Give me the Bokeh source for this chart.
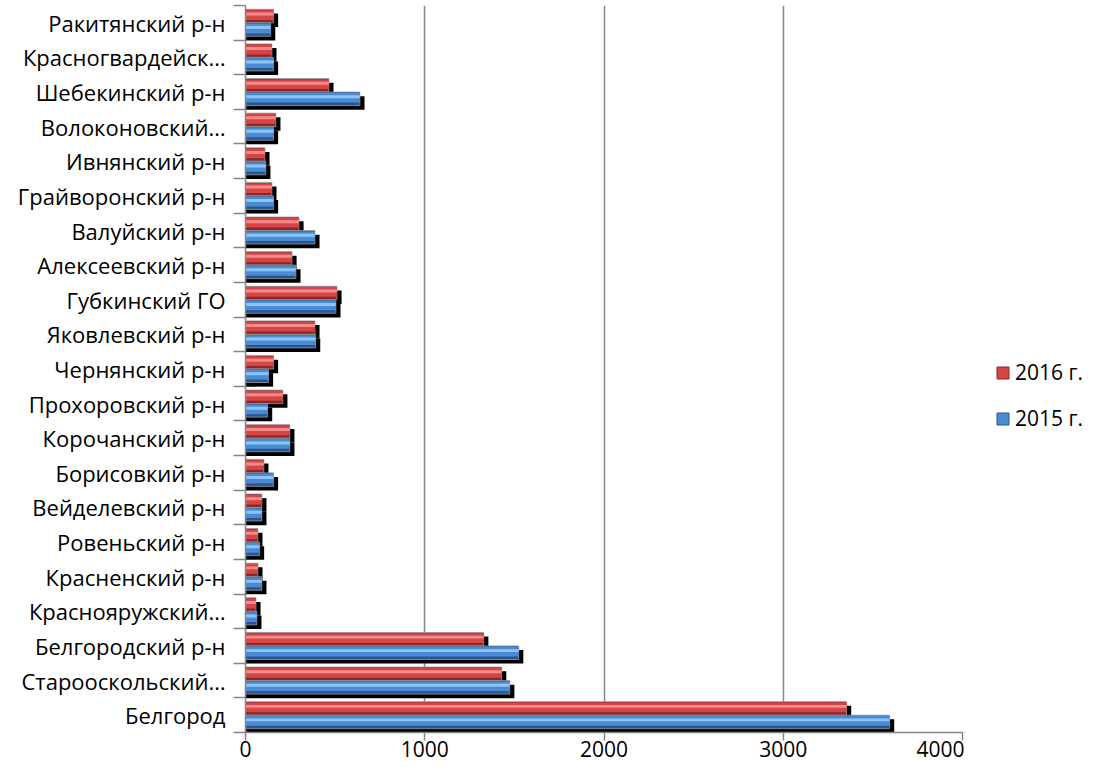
from bokeh.plotting import figure
from bokeh.layouts import row
from bokeh.models import Range1d, FixedTicker, Legend, LegendItem, ColumnDataSource
from bokeh.embed import file_html
from bokeh.resources import INLINE

# Categories, top to bottom as in the chart
districts = [
    "Ракитянский р-н", "Красногвардейск…", "Шебекинский р-н", "Волоконовский…",
    "Ивнянский р-н", "Грайворонский р-н", "Валуйский р-н", "Алексеевский р-н",
    "Губкинский ГО", "Яковлевский р-н", "Чернянский р-н", "Прохоровский р-н",
    "Корочанский р-н", "Борисовкий р-н", "Вейделевский р-н", "Ровеньский р-н",
    "Красненский р-н", "Краснояружский…", "Белгородский р-н", "Старооскольский…",
    "Белгород",
]
values_2016 = [156, 147, 465, 169, 108, 147, 298, 259, 510, 387, 156, 208,
               247, 102, 91, 69, 69, 58, 1329, 1429, 3353]
values_2015 = [140, 156, 638, 156, 113, 156, 387, 281, 504, 391, 128, 123,
               247, 156, 91, 78, 91, 63, 1524, 1474, 3593]
series_labels = ["2016 г.", "2015 г."]
x_ticks = [0, 1000, 2000, 3000, 4000]

n = len(districts)
centers = [n - 1 - i + 0.5 for i in range(n)]

FONT = "Open Sans"
RED = ("#8E2626", "#D64545", "#F58C8C")
BLUE = ("#28558F", "#4A8BD6", "#8EC5F6")

p = figure(width=964, height=762, output_backend="svg", toolbar_location=None,
           x_range=Range1d(0, 4000), y_range=Range1d(0, n),
           min_border_left=245, min_border_top=5, min_border_bottom=30,
           min_border_right=2)
p.outline_line_color = None
p.background_fill_color = "white"
p.border_fill_color = "white"

H = 0.39
red_c = [c + 0.195 for c in centers]
blue_c = [c - 0.195 for c in centers]
shift_x = 26   # shadow offset (≈5px)
shift_y = 0.12

src = ColumnDataSource(dict(
    red_y=red_c, blue_y=blue_c, v16=values_2016, v15=values_2015,
    red_sy=[y - shift_y for y in red_c], blue_sy=[y - shift_y for y in blue_c],
    v16s=[v + shift_x for v in values_2016], v15s=[v + shift_x for v in values_2015],
    red_my=[y + 0.03 for y in red_c], blue_my=[y + 0.03 for y in blue_c],
    red_hy=[y + 0.06 for y in red_c], blue_hy=[y + 0.06 for y in blue_c],
))

# shadows
p.hbar(y="red_sy", right="v16s", left=0, height=H, source=src, fill_color="black", line_color=None)
p.hbar(y="blue_sy", right="v15s", left=0, height=H, source=src, fill_color="black", line_color=None)

# red bars (2016)
p.hbar(y="red_y", right="v16", left=0, height=H, source=src, fill_color=RED[0], line_color="#9a9a9a", line_width=0.8)
p.hbar(y="red_my", right="v16", left=0, height=H * 0.72, source=src, fill_color=RED[1], line_color=None)
p.hbar(y="red_hy", right="v16", left=0, height=H * 0.22, source=src, fill_color=RED[2], line_color=None)

# blue bars (2015)
p.hbar(y="blue_y", right="v15", left=0, height=H, source=src, fill_color=BLUE[0], line_color="#9a9a9a", line_width=0.8)
p.hbar(y="blue_my", right="v15", left=0, height=H * 0.72, source=src, fill_color=BLUE[1], line_color=None)
p.hbar(y="blue_hy", right="v15", left=0, height=H * 0.22, source=src, fill_color=BLUE[2], line_color=None)

# axes
xa = p.xaxis[0]
xa.ticker = FixedTicker(ticks=x_ticks)
xa.axis_line_color = "#868686"
xa.axis_line_width = 1.5
xa.major_tick_line_color = "#868686"
xa.major_tick_line_width = 1.5
xa.major_tick_out = 8
xa.major_tick_in = 0
xa.minor_tick_line_color = None
xa.major_label_text_font = FONT
xa.major_label_text_font_size = "21px"
xa.major_label_text_color = "black"
xa.major_label_standoff = 0

ya = p.yaxis[0]
ya.ticker = FixedTicker(ticks=centers, minor_ticks=list(range(n + 1)))
ya.major_label_overrides = {c: d for c, d in zip(centers, districts)}
ya.axis_line_color = "#868686"
ya.axis_line_width = 1.5
ya.major_tick_line_color = None
ya.major_tick_out = 0
ya.major_tick_in = 0
ya.minor_tick_line_color = "#868686"
ya.minor_tick_line_width = 1.5
ya.minor_tick_out = 12
ya.minor_tick_in = 0
ya.major_label_text_font = FONT
ya.major_label_text_font_size = "22px"
ya.major_label_text_color = "black"
ya.major_label_standoff = 8

p.xgrid.grid_line_color = "#868686"
p.xgrid.grid_line_width = 1.5
p.ygrid.grid_line_color = None

# legend panel (swatch renderers sit outside the visible range)
lg = figure(width=125, height=762, output_backend="svg", toolbar_location=None,
            x_range=Range1d(0, 1), y_range=Range1d(0, 1),
            min_border_left=0, min_border_right=0, min_border_top=0, min_border_bottom=0)
lg.axis.visible = False
lg.grid.visible = False
lg.outline_line_color = None
swatch = ColumnDataSource(dict(y=[-5], right=[-4]))
l16 = lg.hbar(y="y", right="right", left=-5, height=0.1, source=swatch, fill_color=RED[1], line_color=RED[0])
l15 = lg.hbar(y="y", right="right", left=-5, height=0.1, source=swatch, fill_color=BLUE[1], line_color=BLUE[0])

legend = Legend(items=[LegendItem(label=series_labels[0], renderers=[l16]),
                       LegendItem(label=series_labels[1], renderers=[l15])],
                location=(31, 300))
legend.border_line_color = None
legend.background_fill_alpha = 0
legend.label_text_font = FONT
legend.label_text_font_size = "21px"
legend.label_text_color = "black"
legend.glyph_width = 15
legend.glyph_height = 15
legend.label_standoff = 5
legend.spacing = 18
legend.label_height = 22
legend.margin = 0
legend.padding = 0
lg.add_layout(legend, "center")

layout = row(p, lg)
open("out.html", "w").write(file_html(layout, INLINE))
